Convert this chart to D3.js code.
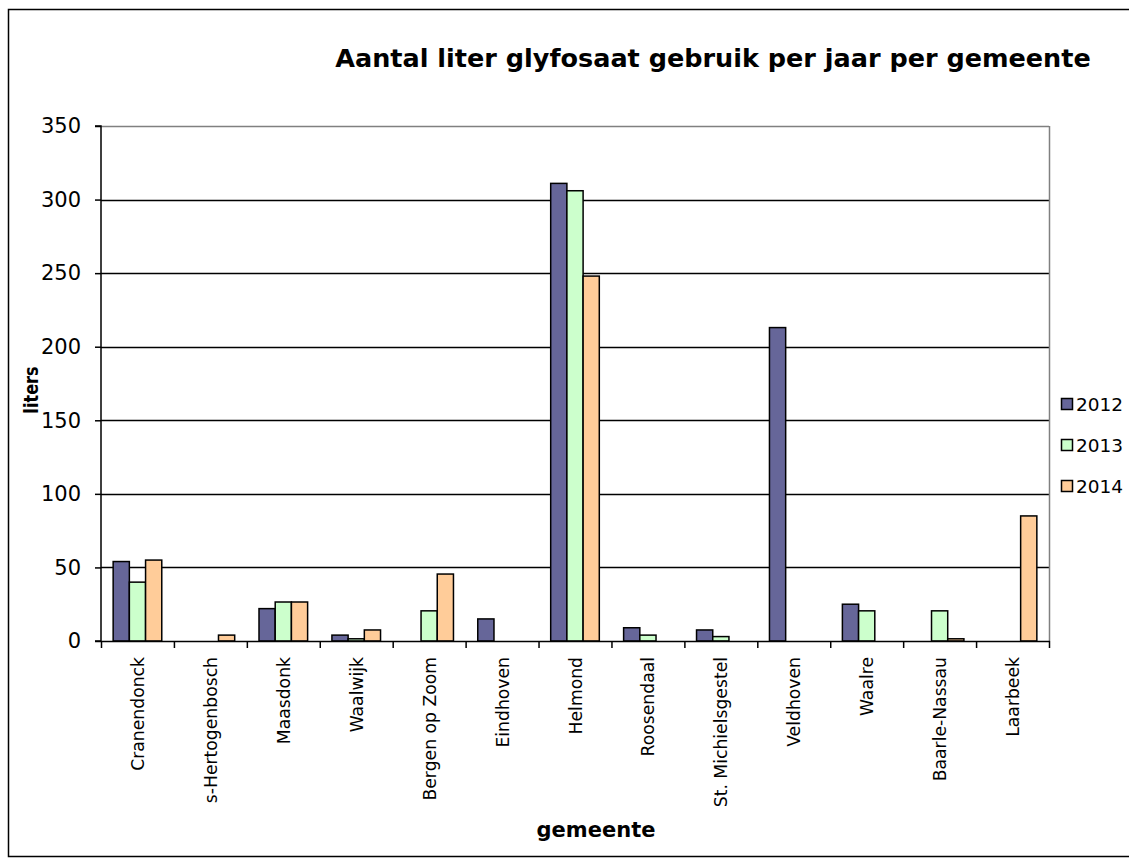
<!DOCTYPE html>
<html>
<head>
<meta charset="utf-8">
<script src="https://cdn.jsdelivr.net/npm/d3@7"></script>
<style>
  html, body { margin: 0; padding: 0; background: #fff; }
  svg { display: block; }
</style>
</head>
<body>
<svg id="chart" width="1129" height="865"></svg>
<script>
// Glyphosate use (litres) per municipality per year
const categories = ["Cranendonck", "s-Hertogenbosch", "Maasdonk", "Waalwijk", "Bergen op Zoom",
  "Eindhoven", "Helmond", "Roosendaal", "St. Michielsgestel", "Veldhoven", "Waalre",
  "Baarle-Nassau", "Laarbeek"];
const years = ["2012", "2013", "2014"];
const values2012 = [54, 0, 22, 4, 0, 15, 311, 9, 7.5, 213, 25, 0, 0];
const values2013 = [40, 0, 26.5, 1.5, 20.5, 0, 306, 4, 3, 0, 20.5, 20.5, 0];
const values2014 = [55, 4, 26.5, 7.5, 45.5, 0, 248, 0, 0, 0, 0, 1.5, 85];
const yTicks = [0, 50, 100, 150, 200, 250, 300, 350];
const colors = ["#666699", "#CCFFCC", "#FFCC99"];

const series = [values2012, values2013, values2014];
const font = "'DejaVu Sans', Verdana, sans-serif";

const svg = d3.select("#chart");
const plot = { left: 101, right: 1049, top: 126, bottom: 641 };

// Outer chart frame
svg.append("rect")
  .attr("x", 8.5).attr("y", 9.5).attr("width", 1140).attr("height", 847)
  .attr("fill", "#fff").attr("stroke", "#000").attr("stroke-width", 1.5);

const x0 = d3.scaleBand().domain(categories).range([plot.left, plot.right]).paddingInner(0).paddingOuter(0);
const y = d3.scaleLinear().domain([0, 350]).range([plot.bottom, plot.top]);

// Gap width 150%: three bars plus 1.5 bar widths per category
const bw = x0.bandwidth() / 4.5;
const offset = bw * 0.75;

// Horizontal gridlines
svg.append("g").selectAll("line").data(yTicks.filter(d => d > 0)).join("line")
  .attr("x1", plot.left).attr("x2", plot.right)
  .attr("y1", d => Math.round(y(d)) + 0.5).attr("y2", d => Math.round(y(d)) + 0.5)
  .attr("stroke", d => d === 350 ? "#808080" : "#000").attr("stroke-width", 1.5);

// Right border of plot area
svg.append("line")
  .attr("x1", plot.right + 0.5).attr("x2", plot.right + 0.5)
  .attr("y1", plot.top).attr("y2", plot.bottom)
  .attr("stroke", "#808080").attr("stroke-width", 1.5);

// Bars
const barG = svg.append("g");
series.forEach((vals, si) => {
  barG.selectAll(null).data(vals.map((v, i) => ({ v, c: categories[i] }))).join("rect")
    .filter(d => d.v > 0)
    .attr("x", d => x0(d.c) + offset + si * bw)
    .attr("y", d => y(d.v))
    .attr("width", bw)
    .attr("height", d => y(0) - y(d.v))
    .attr("fill", colors[si])
    .attr("stroke", "#000").attr("stroke-width", 1.5);
});

// Y axis
const yAxis = d3.axisLeft(y).tickValues(yTicks).tickSize(6).tickPadding(14).tickFormat(d3.format("d"));
const ya = svg.append("g").attr("transform", `translate(${plot.left},0)`).call(yAxis);
ya.select(".domain").attr("stroke", "#000").attr("stroke-width", 1.5).attr("d", `M-6,${plot.top}H0V${plot.bottom}H-6`);
ya.selectAll(".tick line").attr("stroke", "#000").attr("stroke-width", 1.5);
ya.selectAll(".tick text").attr("font-family", font).attr("font-size", 21).attr("fill", "#000");

// X axis
const xa = svg.append("g").attr("transform", `translate(0,${plot.bottom})`);
xa.append("line").attr("x1", plot.left).attr("x2", plot.right + 1)
  .attr("y1", 0.5).attr("y2", 0.5).attr("stroke", "#000").attr("stroke-width", 1.5);
const bounds = categories.map(c => x0(c)).concat([plot.right]);
xa.selectAll(".xt").data(bounds).join("line").attr("class", "xt")
  .attr("x1", d => d + 0.5).attr("x2", d => d + 0.5).attr("y1", 0).attr("y2", 7)
  .attr("stroke", "#000").attr("stroke-width", 1.5);
xa.selectAll(".xl").data(categories).join("text").attr("class", "xl")
  .attr("transform", d => `translate(${x0(d) + x0.bandwidth() / 2 + 6.5},16) rotate(-90) scale(0.93,1)`)
  .attr("text-anchor", "end")
  .attr("font-family", font).attr("font-size", 18.5).attr("fill", "#000")
  .text(d => d);

// Title
svg.append("text").attr("x", 713).attr("y", 67).attr("text-anchor", "middle")
  .attr("font-family", font).attr("font-weight", "bold").attr("font-size", 25.5)
  .text("Aantal liter glyfosaat gebruik per jaar per gemeente");

// Axis titles
svg.append("text").attr("transform", "translate(38,390) rotate(-90) scale(0.85,1)").attr("text-anchor", "middle")
  .attr("font-family", font).attr("font-weight", "bold").attr("font-size", 19)
  .text("liters");
svg.append("text").attr("x", 596).attr("y", 837).attr("text-anchor", "middle")
  .attr("font-family", font).attr("font-weight", "bold").attr("font-size", 21)
  .text("gemeente");

// Legend
const lg = svg.append("g").attr("transform", "translate(1061,0)");
years.forEach((yr, i) => {
  const cy = 404 + i * 41;
  lg.append("rect").attr("x", 0.5).attr("y", cy - 5.5).attr("width", 11).attr("height", 11)
    .attr("fill", colors[i]).attr("stroke", "#000").attr("stroke-width", 1.5);
  lg.append("text").attr("x", 15).attr("y", cy + 6.5)
    .attr("font-family", font).attr("font-size", 18.5).text(yr);
});
</script>
</body>
</html>
